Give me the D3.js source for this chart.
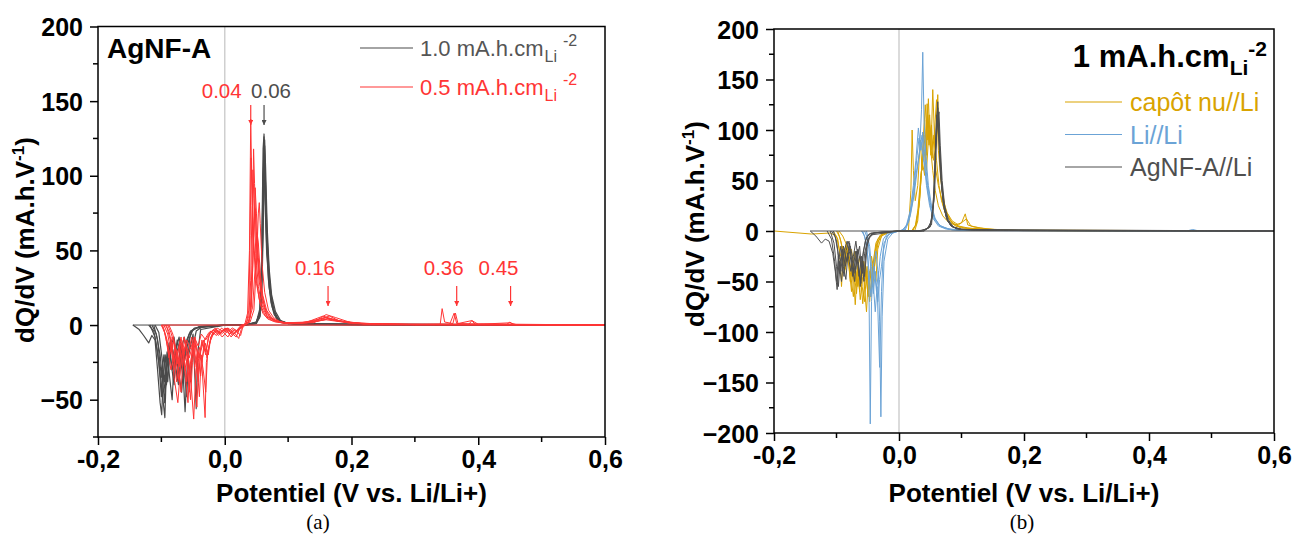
<!DOCTYPE html>
<html>
<head>
<meta charset="utf-8">
<script src="https://cdn.jsdelivr.net/npm/d3@7"></script>
<style>
  html, body { margin: 0; padding: 0; background: #fff; }
  svg { display: block; }
</style>
</head>
<body>
<svg id="chart" width="1294" height="538"></svg>
<script>
// ---------------- DATA ----------------
const xTicks = [-0.2, 0.0, 0.2, 0.4, 0.6];
const xTickLabels = ["-0,2", "0,0", "0,2", "0,4", "0,6"];
const yTicksA = [-50, 0, 50, 100, 150, 200];
const yTicksB = [-200, -150, -100, -50, 0, 50, 100, 150, 200];

const legendA = ["1.0 mA.h.cm", "0.5 mA.h.cm"];
const legendB = ["capôt nu//Li", "Li//Li", "AgNF-A//Li"];

// annotated peaks on panel (a): label, potential of arrow, series
const peakLabels = ["0.04", "0.06", "0.16", "0.36", "0.45"];
const peakV = [0.041, 0.062, 0.163, 0.366, 0.451];
const peakSeries = ["red", "gray", "red", "red", "red"];

// Panel (a): 1.0 mA.h.cm-2 cycles (gray)
const grayBaseA = [[-0.145, 0], [0.6, 0]];
const grayCyclesA = [
  [[-0.145,0],[-0.135,-3],[-0.128,-7],[-0.12,-12],[-0.115,-7],[-0.11,-10],[-0.106,-30],[-0.102,-52],[-0.0995,-60],[-0.097,-35],[-0.094,-20],[-0.09,-38],[-0.086,-15],[-0.08,-8],[-0.074,-28],[-0.068,-45],[-0.064,-22],[-0.06,-10],[-0.054,-4],[-0.045,-2],[-0.03,-1],[0,0],
   [0.02,0],[0.04,0.5],[0.05,2],[0.055,8],[0.058,40],[0.0605,118],[0.062,128],[0.0635,95],[0.066,55],[0.069,30],[0.073,15],[0.078,7],[0.085,3],[0.1,1],[0.14,0.5],[0.2,0.3],[0.3,0.1],[0.6,0]],
  [[-0.12,0],[-0.112,-4],[-0.106,-18],[-0.1,-40],[-0.0945,-62],[-0.092,-28],[-0.088,-12],[-0.083,-30],[-0.078,-18],[-0.072,-8],[-0.066,-30],[-0.0626,-58],[-0.059,-25],[-0.055,-8],[-0.05,-3],[-0.04,-1],[0,0],
   [0.03,0],[0.05,1],[0.056,6],[0.059,35],[0.0615,110],[0.063,120],[0.065,80],[0.068,45],[0.072,22],[0.077,10],[0.083,4],[0.092,1.5],[0.12,0.6],[0.2,0.3],[0.6,0]],
  [[-0.118,0],[-0.11,-8],[-0.104,-25],[-0.1,-48],[-0.098,-30],[-0.094,-45],[-0.09,-22],[-0.085,-10],[-0.08,-22],[-0.075,-35],[-0.07,-15],[-0.064,-25],[-0.058,-12],[-0.052,-4],[-0.04,-1],[0,0],
   [0.03,0],[0.05,1.5],[0.057,10],[0.06,60],[0.062,126],[0.064,100],[0.067,58],[0.071,28],[0.076,12],[0.082,5],[0.09,2],[0.11,0.8],[0.2,0.3],[0.6,0]],
  [[-0.115,0],[-0.108,-6],[-0.102,-20],[-0.097,-42],[-0.095,-52],[-0.092,-30],[-0.087,-18],[-0.08,-40],[-0.077,-20],[-0.07,-10],[-0.064,-30],[-0.06,-48],[-0.057,-20],[-0.05,-6],[-0.045,-56],[-0.043,-20],[-0.038,-3],[0,0],
   [0.035,0],[0.05,2],[0.058,12],[0.061,70],[0.063,124],[0.0645,105],[0.067,65],[0.07,38],[0.074,20],[0.08,9],[0.088,3],[0.1,1.2],[0.15,0.8],[0.22,0.3],[0.6,0]],
  [[-0.112,0],[-0.106,-10],[-0.1,-35],[-0.096,-20],[-0.092,-40],[-0.088,-25],[-0.084,-12],[-0.078,-28],[-0.073,-40],[-0.069,-18],[-0.064,-8],[-0.058,-20],[-0.054,-38],[-0.05,-14],[-0.045,-4],[-0.035,-1],[0,0],
   [0.03,0],[0.048,1],[0.055,5],[0.058,30],[0.06,90],[0.0615,115],[0.063,92],[0.066,50],[0.07,25],[0.075,12],[0.081,5],[0.09,2],[0.11,0.8],[0.25,0.2],[0.6,0]],
  [[-0.11,0],[-0.104,-5],[-0.099,-22],[-0.095,-38],[-0.091,-18],[-0.087,-35],[-0.083,-50],[-0.08,-25],[-0.075,-10],[-0.07,-22],[-0.066,-35],[-0.062,-15],[-0.056,-6],[-0.048,-2],[0,0],
   [0.03,0],[0.05,2],[0.056,12],[0.059,55],[0.0605,100],[0.062,112],[0.064,85],[0.067,48],[0.072,22],[0.078,9],[0.086,3],[0.1,1],[0.6,0]]
];

// Panel (a): 0.5 mA.h.cm-2 cycles (red)
const redBaseA = [[-0.1, 0], [0.6, 0]];
const redCyclesA = [
  [[-0.1,0],[-0.095,-5],[-0.09,-15],[-0.085,-30],[-0.08,-20],[-0.076,-38],[-0.072,-25],[-0.068,-12],[-0.063,-30],[-0.058,-20],[-0.053,-40],[-0.049,-63],[-0.046,-35],[-0.042,-18],[-0.036,-25],[-0.032,-10],[-0.025,-5],[-0.015,-3],[-0.005,-6],[0.005,-2],[0.015,-5],[0.022,-9],[0.026,-3],[0.03,0],
   [0.032,1],[0.036,8],[0.039,50],[0.041,138],[0.0425,100],[0.045,60],[0.049,35],[0.054,18],[0.06,8],[0.068,4],[0.08,2],[0.1,1],[0.14,1.5],[0.16,5],[0.18,2.5],[0.22,0.8],[0.3,0.3],[0.34,0.5],[0.343,11],[0.347,2],[0.36,1],[0.364,8],[0.368,1],[0.39,3],[0.4,0.5],[0.45,1.5],[0.46,0.3],[0.6,0]],
  [[-0.098,0],[-0.093,-8],[-0.088,-22],[-0.084,-12],[-0.08,-35],[-0.074,-52],[-0.07,-30],[-0.066,-15],[-0.06,-25],[-0.056,-45],[-0.052,-22],[-0.047,-10],[-0.043,-30],[-0.04,-48],[-0.037,-20],[-0.031,-62],[-0.029,-25],[-0.022,-8],[-0.012,-4],[-0.004,-8],[0.006,-3],[0.015,-6],[0.024,-2],[0.03,0],
   [0.036,1],[0.04,6],[0.043,40],[0.0455,118],[0.047,95],[0.05,55],[0.054,30],[0.06,14],[0.067,6],[0.078,3],[0.095,1.5],[0.13,2],[0.155,6],[0.17,4],[0.2,1],[0.3,0.3],[0.355,0.6],[0.362,8],[0.366,1],[0.39,0.8],[0.6,0]],
  [[-0.096,0],[-0.09,-6],[-0.085,-18],[-0.081,-10],[-0.077,-24],[-0.072,-38],[-0.068,-20],[-0.063,-10],[-0.058,-28],[-0.054,-50],[-0.051,-25],[-0.047,-12],[-0.041,-22],[-0.036,-12],[-0.03,-18],[-0.024,-6],[-0.015,-2],[-0.008,-5],[0.002,-3],[0.01,-8],[0.018,-4],[0.028,0],
   [0.034,1],[0.038,10],[0.04,60],[0.0415,112],[0.043,90],[0.046,50],[0.05,28],[0.056,14],[0.064,6],[0.075,3],[0.09,1.5],[0.12,1.5],[0.15,4],[0.165,6],[0.18,3],[0.22,0.8],[0.3,0.3],[0.6,0]],
  [[-0.094,0],[-0.088,-4],[-0.083,-14],[-0.078,-30],[-0.074,-18],[-0.069,-8],[-0.064,-22],[-0.06,-38],[-0.057,-18],[-0.052,-8],[-0.047,-30],[-0.044,-55],[-0.041,-25],[-0.036,-10],[-0.03,-20],[-0.026,-8],[-0.018,-3],[-0.01,-7],[0,-2],[0.008,-6],[0.016,-3],[0.025,-7],[0.028,-2],[0.032,0],
   [0.038,2],[0.042,12],[0.045,50],[0.048,92],[0.05,75],[0.053,45],[0.057,25],[0.063,12],[0.07,6],[0.08,3],[0.1,1.2],[0.14,2],[0.16,7],[0.175,5],[0.2,1.5],[0.25,0.5],[0.385,0.5],[0.39,3],[0.395,0.5],[0.6,0]],
  [[-0.092,0],[-0.086,-10],[-0.082,-25],[-0.078,-15],[-0.073,-28],[-0.069,-45],[-0.066,-22],[-0.061,-12],[-0.056,-22],[-0.05,-12],[-0.045,-28],[-0.04,-15],[-0.034,-30],[-0.03,-45],[-0.027,-18],[-0.02,-6],[-0.012,-2],[-0.004,-4],[0.005,-8],[0.012,-3],[0.02,-5],[0.027,0],
   [0.034,1],[0.038,6],[0.041,30],[0.043,80],[0.0445,104],[0.046,85],[0.049,48],[0.053,26],[0.058,14],[0.066,6],[0.078,3],[0.095,1.2],[0.13,1.5],[0.158,5],[0.175,3],[0.21,1],[0.3,0.3],[0.445,0.5],[0.45,2],[0.455,0.3],[0.6,0]],
  [[-0.09,0],[-0.085,-5],[-0.08,-12],[-0.075,-20],[-0.07,-10],[-0.066,-18],[-0.062,-35],[-0.058,-52],[-0.055,-28],[-0.05,-14],[-0.046,-22],[-0.042,-38],[-0.038,-18],[-0.033,-10],[-0.028,-22],[-0.024,-12],[-0.016,-4],[-0.008,-6],[0.002,-2],[0.01,-5],[0.018,-8],[0.023,-3],[0.03,0],
   [0.04,2],[0.046,10],[0.05,40],[0.053,75],[0.0545,82],[0.056,68],[0.059,40],[0.063,22],[0.069,10],[0.077,5],[0.088,2],[0.11,1],[0.15,3],[0.165,4.5],[0.19,2],[0.25,0.5],[0.6,0]],
  [[-0.088,0],[-0.082,-6],[-0.077,-16],[-0.072,-28],[-0.068,-14],[-0.064,-8],[-0.059,-20],[-0.055,-32],[-0.051,-16],[-0.047,-8],[-0.043,-18],[-0.038,-34],[-0.035,-22],[-0.031,-12],[-0.026,-20],[-0.022,-8],[-0.014,-3],[-0.006,-5],[0.004,-2],[0.012,-7],[0.02,-3],[0.026,0],
   [0.036,1],[0.04,5],[0.043,25],[0.0465,70],[0.048,78],[0.05,60],[0.054,35],[0.059,18],[0.066,8],[0.075,4],[0.09,1.5],[0.12,1],[0.16,3.5],[0.2,1.2],[0.28,0.3],[0.6,0]],
  [[-0.1,0],[-0.096,-3],[-0.091,-10],[-0.087,-20],[-0.083,-8],[-0.078,-15],[-0.074,-26],[-0.07,-12],[-0.065,-18],[-0.06,-10],[-0.054,-16],[-0.048,-8],[-0.042,-14],[-0.037,-6],[-0.03,-10],[-0.022,-4],[-0.013,-7],[-0.005,-2],[0.003,-5],[0.012,-2],[0.02,-4],[0.03,0],
   [0.038,2],[0.044,12],[0.049,45],[0.051,62],[0.053,55],[0.056,35],[0.06,20],[0.066,10],[0.074,5],[0.085,2],[0.1,1],[0.14,2],[0.162,4],[0.18,2.5],[0.22,0.8],[0.6,0]]
];

// Panel (b): capôt nu//Li (gold)
const goldCyclesB = [
  [[-0.2,0],[-0.14,-3],[-0.11,-2],[-0.1,-5],[-0.095,-20],[-0.092,-55],[-0.089,-25],[-0.084,-12],[-0.079,-30],[-0.075,-45],[-0.071,-20],[-0.067,-35],[-0.063,-60],[-0.06,-30],[-0.056,-50],[-0.052,-80],[-0.049,-45],[-0.045,-65],[-0.041,-30],[-0.037,-12],[-0.03,-4],[-0.02,-1],[0,0],
   [0.015,0],[0.019,40],[0.021,100],[0.023,60],[0.026,30],[0.03,45],[0.034,90],[0.037,60],[0.041,110],[0.044,75],[0.047,131],[0.05,85],[0.054,60],[0.058,40],[0.063,25],[0.07,15],[0.08,8],[0.09,6],[0.1,8],[0.106,17],[0.11,6],[0.12,4],[0.14,2],[0.19,0.5],[0.6,0]],
  [[-0.105,0],[-0.098,-8],[-0.094,-25],[-0.09,-15],[-0.086,-38],[-0.082,-22],[-0.078,-50],[-0.074,-35],[-0.07,-73],[-0.067,-40],[-0.063,-25],[-0.059,-55],[-0.055,-70],[-0.052,-40],[-0.048,-58],[-0.044,-25],[-0.04,-40],[-0.036,-15],[-0.03,-5],[-0.02,-1],[0,0],
   [0.02,0],[0.026,5],[0.03,20],[0.035,55],[0.04,80],[0.044,60],[0.048,100],[0.051,75],[0.054,140],[0.057,90],[0.06,70],[0.064,45],[0.068,30],[0.074,18],[0.082,10],[0.09,5],[0.1,3],[0.13,2],[0.18,0.5],[0.6,0]],
  [[-0.1,0],[-0.095,-6],[-0.09,-18],[-0.087,-42],[-0.084,-20],[-0.08,-35],[-0.076,-60],[-0.073,-30],[-0.069,-50],[-0.066,-35],[-0.062,-68],[-0.058,-45],[-0.054,-30],[-0.05,-62],[-0.047,-40],[-0.043,-55],[-0.039,-22],[-0.034,-8],[-0.025,-2],[0,0],
   [0.022,0],[0.028,8],[0.033,30],[0.037,70],[0.041,55],[0.045,126],[0.048,85],[0.052,105],[0.055,70],[0.058,80],[0.062,135],[0.065,75],[0.069,40],[0.075,20],[0.083,10],[0.092,5],[0.105,3],[0.13,1.5],[0.17,0.5],[0.6,0]],
  [[-0.098,0],[-0.093,-10],[-0.088,-30],[-0.085,-15],[-0.081,-25],[-0.077,-45],[-0.073,-65],[-0.07,-35],[-0.066,-55],[-0.062,-40],[-0.058,-72],[-0.055,-50],[-0.051,-35],[-0.047,-70],[-0.044,-45],[-0.041,-30],[-0.037,-50],[-0.034,-18],[-0.028,-5],[-0.015,-1],[0,0],
   [0.025,0],[0.03,10],[0.034,40],[0.038,80],[0.042,125],[0.045,90],[0.049,115],[0.052,80],[0.056,95],[0.059,60],[0.063,45],[0.067,35],[0.072,22],[0.078,14],[0.085,8],[0.095,5],[0.11,3],[0.14,1.5],[0.19,0.5],[0.6,0]],
  [[-0.096,0],[-0.09,-5],[-0.085,-12],[-0.08,-28],[-0.076,-18],[-0.072,-40],[-0.068,-62],[-0.065,-38],[-0.061,-50],[-0.057,-30],[-0.053,-45],[-0.049,-65],[-0.046,-38],[-0.042,-55],[-0.038,-28],[-0.033,-10],[-0.025,-3],[0,0],
   [0.02,0],[0.027,6],[0.032,25],[0.036,60],[0.04,95],[0.043,70],[0.046,115],[0.05,88],[0.053,72],[0.057,100],[0.06,130],[0.063,80],[0.067,50],[0.071,30],[0.077,18],[0.085,10],[0.095,6],[0.108,12],[0.115,5],[0.13,3],[0.16,1],[0.6,0]]
];

// Panel (b): Li//Li (blue)
const blueCyclesB = [
  [[-0.06,0],[-0.055,-5],[-0.05,-25],[-0.048,-60],[-0.046,-191],[-0.044,-70],[-0.041,-35],[-0.037,-20],[-0.033,-45],[-0.03,-25],[-0.025,-8],[-0.018,-2],[0,0],
   [0.005,1],[0.012,5],[0.018,15],[0.024,35],[0.029,60],[0.033,80],[0.036,120],[0.038,177],[0.04,110],[0.043,75],[0.047,45],[0.052,25],[0.058,12],[0.066,5],[0.08,2],[0.11,0.5],[0.6,0]],
  [[-0.055,0],[-0.05,-8],[-0.046,-30],[-0.043,-55],[-0.04,-35],[-0.036,-60],[-0.033,-40],[-0.031,-90],[-0.029,-184],[-0.027,-85],[-0.024,-30],[-0.018,-8],[-0.01,-2],[0,0],
   [0.006,1],[0.012,6],[0.018,20],[0.023,45],[0.027,70],[0.031,102],[0.034,85],[0.037,95],[0.04,70],[0.044,45],[0.049,25],[0.055,12],[0.063,5],[0.075,2],[0.1,0.5],[0.6,0]],
  [[-0.058,0],[-0.052,-12],[-0.048,-40],[-0.045,-65],[-0.042,-45],[-0.038,-80],[-0.035,-55],[-0.031,-135],[-0.028,-60],[-0.025,-20],[-0.02,-5],[-0.01,-1],[0,0],
   [0.008,1],[0.014,8],[0.02,25],[0.025,50],[0.029,75],[0.032,92],[0.035,80],[0.038,98],[0.041,78],[0.045,50],[0.05,28],[0.056,14],[0.064,6],[0.078,2],[0.1,0.5],[0.6,0]],
  [[-0.052,0],[-0.047,-15],[-0.044,-35],[-0.041,-62],[-0.038,-40],[-0.034,-70],[-0.031,-48],[-0.028,-35],[-0.024,-12],[-0.016,-3],[0,0],
   [0.01,1],[0.016,10],[0.022,30],[0.027,55],[0.031,70],[0.035,88],[0.039,72],[0.042,60],[0.046,40],[0.051,22],[0.058,10],[0.068,4],[0.085,1],[0.46,0],[0.47,1.5],[0.48,0],[0.6,0]]
];

// Panel (b): AgNF-A//Li (gray)
const grayBaseB = [[-0.142, 0], [0.6, 0]];
const grayCyclesB = [
  [[-0.142,0],[-0.133,-5],[-0.124,-12],[-0.118,-8],[-0.112,-10],[-0.106,-22],[-0.102,-40],[-0.099,-58],[-0.096,-30],[-0.092,-50],[-0.088,-20],[-0.083,-10],[-0.078,-25],[-0.074,-45],[-0.07,-20],[-0.065,-35],[-0.061,-52],[-0.058,-25],[-0.054,-10],[-0.048,-3],[-0.03,-1],[0,0],
   [0.03,0],[0.045,2],[0.052,10],[0.056,40],[0.059,90],[0.062,128],[0.064,95],[0.067,55],[0.071,28],[0.076,12],[0.083,5],[0.095,2],[0.13,0.8],[0.3,0.3],[0.6,0]],
  [[-0.115,0],[-0.108,-8],[-0.103,-30],[-0.1,-50],[-0.097,-25],[-0.093,-40],[-0.089,-15],[-0.084,-30],[-0.079,-12],[-0.075,-35],[-0.071,-50],[-0.068,-28],[-0.063,-15],[-0.06,-40],[-0.057,-20],[-0.052,-6],[-0.045,-2],[0,0],
   [0.035,0],[0.048,3],[0.054,15],[0.057,55],[0.06,110],[0.062,122],[0.065,85],[0.068,50],[0.072,25],[0.078,10],[0.086,4],[0.1,1.5],[0.2,0.4],[0.6,0]],
  [[-0.11,0],[-0.104,-12],[-0.1,-35],[-0.097,-55],[-0.094,-30],[-0.09,-18],[-0.086,-35],[-0.082,-22],[-0.077,-40],[-0.073,-25],[-0.069,-10],[-0.065,-30],[-0.062,-55],[-0.059,-28],[-0.055,-45],[-0.051,-15],[-0.046,-4],[0,0],
   [0.035,0],[0.05,4],[0.055,25],[0.058,75],[0.0605,115],[0.063,100],[0.066,60],[0.07,32],[0.075,15],[0.082,6],[0.092,2],[0.12,0.7],[0.6,0]],
  [[-0.108,0],[-0.102,-6],[-0.098,-20],[-0.095,-42],[-0.092,-25],[-0.088,-45],[-0.085,-20],[-0.08,-10],[-0.076,-28],[-0.072,-42],[-0.068,-20],[-0.064,-45],[-0.06,-25],[-0.056,-50],[-0.053,-20],[-0.049,-8],[-0.04,-2],[0,0],
   [0.04,0],[0.05,5],[0.056,30],[0.059,80],[0.061,105],[0.064,118],[0.066,85],[0.069,50],[0.073,25],[0.079,11],[0.087,4],[0.1,1.5],[0.15,0.5],[0.6,0]],
  [[-0.105,0],[-0.1,-10],[-0.096,-28],[-0.093,-15],[-0.089,-35],[-0.085,-48],[-0.082,-25],[-0.078,-15],[-0.073,-30],[-0.069,-38],[-0.066,-18],[-0.062,-30],[-0.058,-42],[-0.055,-22],[-0.05,-8],[-0.042,-2],[0,0],
   [0.04,0],[0.052,6],[0.057,40],[0.06,95],[0.0625,112],[0.065,80],[0.068,45],[0.072,22],[0.078,10],[0.085,4],[0.1,1.5],[0.6,0]]
];

// ---------------- DRAWING ----------------
const COLORS = { gray: "#4a4a4a", red: "#ff3535", gold: "#d9a300", blue: "#6ba3d6", grayB: "#4f4f4f", zero: "#cfcfcf" };
const FONT = '"Liberation Sans", Arial, sans-serif';
const SERIF = '"Liberation Serif", "DejaVu Serif", serif';
const svg = d3.select("#chart");

function panel(cfg) {
  const { x, y, yTicks, yMinorStep, id } = cfg;
  const g = svg.append("g");
  const [x0, x1] = x.range();
  const [yb, yt] = y.range();

  g.append("clipPath").attr("id", id).append("rect")
    .attr("x", x0).attr("y", yt).attr("width", x1 - x0).attr("height", yb - yt);

  // zero potential line
  g.append("line").attr("x1", x(0)).attr("x2", x(0)).attr("y1", yt).attr("y2", yb)
    .attr("stroke", COLORS.zero).attr("stroke-width", 1.5);

  const plot = g.append("g").attr("clip-path", `url(#${id})`);
  const line = d3.line().x(d => x(d[0])).y(d => y(d[1]));
  cfg.series.forEach(s => {
    plot.append("g").selectAll("path").data(s.data).join("path")
      .attr("d", line).attr("fill", "none").attr("stroke", s.color)
      .attr("stroke-width", s.width || 1).attr("stroke-linejoin", "round");
  });

  // box
  g.append("rect").attr("x", x0).attr("y", yt).attr("width", x1 - x0).attr("height", yb - yt)
    .attr("fill", "none").attr("stroke", "#000").attr("stroke-width", 1.5);

  // x axis
  const xAxis = g.append("g").attr("transform", `translate(0,${yb})`)
    .call(d3.axisBottom(x).tickValues(xTicks).tickSize(8).tickFormat((d, i) => xTickLabels[i]));
  xAxis.select(".domain").remove();
  xAxis.selectAll("line").attr("stroke-width", 1.5);
  xAxis.selectAll("text").attr("font-family", FONT).attr("font-size", 25).attr("font-weight", "bold")
    .attr("fill", "#000").attr("dy", "0.71em").attr("y", 13);
  const xMinor = d3.range(-0.1, 0.6, 0.2);
  g.append("g").selectAll("line").data(xMinor).join("line")
    .attr("x1", d => x(d)).attr("x2", d => x(d)).attr("y1", yb).attr("y2", yb + 5)
    .attr("stroke", "#000").attr("stroke-width", 1.5);

  // y axis
  const yAxis = g.append("g").attr("transform", `translate(${x0},0)`)
    .call(d3.axisLeft(y).tickValues(yTicks).tickSize(8).tickFormat(d3.format("d")));
  yAxis.select(".domain").remove();
  yAxis.selectAll("line").attr("stroke-width", 1.5);
  yAxis.selectAll("text").attr("font-family", FONT).attr("font-size", 25).attr("font-weight", "bold")
    .attr("fill", "#000").attr("x", -15).attr("dy", "0.36em");
  const [ymin, ymax] = y.domain();
  const yMinor = d3.range(ymin, ymax, yMinorStep).filter(v => !yTicks.includes(v));
  g.append("g").selectAll("line").data(yMinor).join("line")
    .attr("x1", x0 - 5).attr("x2", x0).attr("y1", d => y(d)).attr("y2", d => y(d))
    .attr("stroke", "#000").attr("stroke-width", 1.5);

  // axis titles
  g.append("text").attr("x", (x0 + x1) / 2).attr("y", cfg.xTitleY).attr("text-anchor", "middle")
    .attr("font-family", FONT).attr("font-size", 26).attr("font-weight", "bold")
    .text("Potentiel (V vs. Li/Li+)");
  const yt2 = g.append("text")
    .attr("transform", `translate(${cfg.yTitleX},${cfg.yTitleY}) rotate(-90)`)
    .attr("text-anchor", "middle").attr("font-family", FONT).attr("font-size", 26).attr("font-weight", "bold");
  yt2.append("tspan").text("dQ/dV (mA.h.V");
  yt2.append("tspan").attr("font-size", 17).attr("dy", -10).text("-1");
  yt2.append("tspan").attr("dy", 10).text(")");

  // caption
  svg.append("text").attr("x", cfg.captionX).attr("y", 529).attr("text-anchor", "middle")
    .attr("font-family", SERIF).attr("font-size", 21)
    .text(cfg.caption);
  return g;
}

// Panel (a)
const xA = d3.scaleLinear().domain([-0.2, 0.6]).range([98, 605]);
const yA = d3.scaleLinear().domain([-75, 200]).range([437, 26.5]);
const gA = panel({
  id: "clipA", x: xA, y: yA, yTicks: yTicksA, yMinorStep: 25, xTitleY: 502,
  yTitleX: 34, yTitleY: 240, caption: "(a)", captionX: 318,
  series: [
    { data: [grayBaseA], color: COLORS.gray },
    { data: grayCyclesA, color: COLORS.gray, width: 1.2 },
    { data: [redBaseA], color: COLORS.red },
    { data: redCyclesA, color: COLORS.red }
  ]
});

gA.append("text").attr("x", 107).attr("y", 58).attr("font-family", FONT).attr("font-size", 28)
  .attr("font-weight", "bold").text("AgNF-A");

const legColA = [COLORS.gray, COLORS.red];
const legTextColA = ["#555555", COLORS.red];
legendA.forEach((lbl, i) => {
  const ly = 48 + i * 39;
  gA.append("line").attr("x1", 360).attr("x2", 413).attr("y1", ly).attr("y2", ly)
    .attr("stroke", legColA[i]).attr("stroke-width", 1.2);
  const t = gA.append("text").attr("x", 420).attr("y", ly + 8).attr("font-family", FONT)
    .attr("font-size", 22).attr("fill", legTextColA[i]);
  t.append("tspan").text(lbl);
  t.append("tspan").attr("font-size", 16).attr("dx", 1).attr("dy", 6).text("Li");
  t.append("tspan").attr("font-size", 16).attr("dx", 6).attr("dy", -16).text("-2");
});

// peak annotations
const annColor = { red: COLORS.red, gray: "#4d4d4d" };
const annLabelDx = [-29, 7, -13, -13, -12];
const annLabelY = [98, 98, 275, 275, 275];
const annArrowTop = [105, 105, 286, 286, 286];
const annArrowLen = 20;
const defs = svg.append("defs");
["red", "gray"].forEach(k => {
  defs.append("marker").attr("id", "arr-" + k).attr("viewBox", "0 0 10 10").attr("refX", 10).attr("refY", 5)
    .attr("markerWidth", 5).attr("markerHeight", 5).attr("markerUnits", "userSpaceOnUse")
    .attr("orient", "auto").append("path").attr("d", "M0,0 L10,5 L0,10 Z").attr("fill", annColor[k]);
});
peakLabels.forEach((lbl, i) => {
  const px = xA(peakV[i]);
  const c = annColor[peakSeries[i]];
  gA.append("text").attr("x", px + annLabelDx[i]).attr("y", annLabelY[i]).attr("text-anchor", "middle")
    .attr("font-family", FONT).attr("font-size", 20.5).attr("fill", c).text(lbl);
  gA.append("line").attr("x1", px).attr("x2", px).attr("y1", annArrowTop[i]).attr("y2", annArrowTop[i] + annArrowLen)
    .attr("stroke", c).attr("stroke-width", 1.2).attr("marker-end", `url(#arr-${peakSeries[i]})`);
});

// Panel (b)
const xB = d3.scaleLinear().domain([-0.2, 0.6]).range([774, 1274]);
const yB = d3.scaleLinear().domain([-200, 200]).range([433, 29]);
const gB = panel({
  id: "clipB", x: xB, y: yB, yTicks: yTicksB, yMinorStep: 25, xTitleY: 502,
  yTitleX: 704, yTitleY: 224, caption: "(b)", captionX: 1022,
  series: [
    { data: goldCyclesB, color: COLORS.gold },
    { data: blueCyclesB, color: COLORS.blue },
    { data: [grayBaseB], color: COLORS.grayB },
    { data: grayCyclesB, color: COLORS.grayB }
  ]
});

const tB = gB.append("text").attr("x", 1267).attr("y", 67).attr("text-anchor", "end")
  .attr("font-family", FONT).attr("font-size", 31).attr("font-weight", "bold");
tB.append("tspan").text("1 mA.h.cm");
tB.append("tspan").attr("font-size", 21).attr("dy", 8).text("Li");
tB.append("tspan").attr("font-size", 21).attr("dy", -19).text("-2");

const legColB = [COLORS.gold, COLORS.blue, COLORS.grayB];
legendB.forEach((lbl, i) => {
  const ly = 102 + i * 32.5;
  gB.append("line").attr("x1", 1065).attr("x2", 1122).attr("y1", ly).attr("y2", ly)
    .attr("stroke", legColB[i]).attr("stroke-width", 1.2);
  gB.append("text").attr("x", 1130).attr("y", ly + 9).attr("font-family", FONT)
    .attr("font-size", 25).attr("fill", legColB[i]).text(lbl);
});
</script>
</body>
</html>
